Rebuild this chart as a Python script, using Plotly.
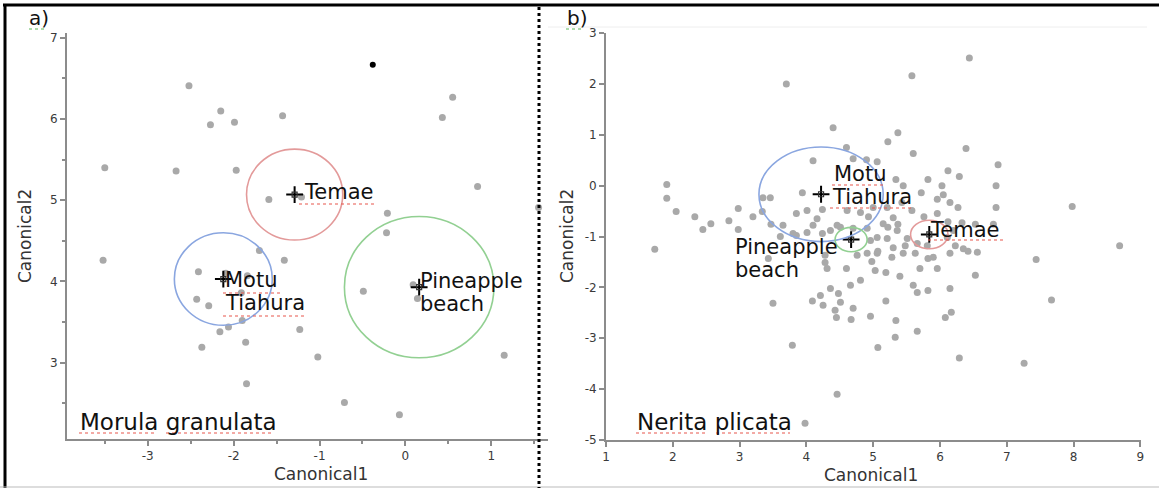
import plotly.graph_objects as go

# ---------------- Panel a: Morula granulata ----------------
a_x = [-2.52, -2.15, -2.27, -1.99, -1.43, -3.50, -2.67, -1.97, -1.59, 0.55, 0.43, 0.84,
       -0.21, -0.22, 1.55, -3.52, -2.41, -1.70, -1.41, -2.43, -2.29, -1.91, -1.84, -2.06,
       -2.16, -1.90, -2.37, -1.86, -1.85, -1.23, -0.49, 0.14, -1.02, 1.15, -0.71, -0.07,
       -2.09, 0.09, -1.21]
a_y = [6.41, 6.10, 5.93, 5.96, 6.04, 5.40, 5.36, 5.37, 5.01, 6.27, 6.02, 5.17,
       4.84, 4.60, 4.91, 4.26, 4.12, 4.38, 4.26, 3.78, 3.70, 3.86, 4.07, 3.44,
       3.38, 3.52, 3.19, 3.25, 2.74, 3.41, 3.88, 3.79, 3.07, 3.09, 2.51, 2.36,
       4.10, 3.96, 5.04]
a_black_x = [-0.38]
a_black_y = [6.67]
a_groups = ["Temae", "Motu Tiahura", "Pineapple beach"]
a_cx = [-1.29, -2.12, 0.16]
a_cy = [5.07, 4.03, 3.93]
a_r = [0.56, 0.57, 0.87]

# ---------------- Panel b: Nerita plicata ----------------
b_x = [3.70, 6.44, 5.58, 4.40, 5.37, 5.22, 4.60, 6.39, 5.60, 4.10, 4.70, 4.90, 5.06, 6.87,
       6.12, 6.29, 6.84, 5.82, 6.03, 5.45, 5.34, 5.72, 6.05, 5.96, 6.15, 6.27, 6.84, 7.98,
       5.76, 5.96, 6.12, 6.33, 6.53, 6.80, 8.69, 5.37, 5.15, 5.30, 4.93, 5.21, 5.43, 5.58,
       5.00, 4.81, 4.61, 1.91, 1.91, 2.05, 2.33, 2.45, 2.57, 2.84, 2.98, 2.98, 3.20, 3.34,
       3.35, 3.46, 3.47, 3.65, 3.85, 3.94, 4.01, 4.24, 4.16, 4.10, 3.61, 3.80, 4.01, 4.24,
       4.36, 4.51, 4.70, 4.91, 5.22, 1.73, 3.43, 4.96, 5.06, 4.91, 4.76, 4.28, 4.28, 4.60,
       4.31, 5.03, 5.19, 5.28, 5.45, 5.30, 5.48, 5.66, 5.81, 5.90, 5.70, 5.96, 6.15, 5.06,
       5.21, 5.36, 5.51, 6.11, 6.20, 4.81, 4.66, 4.36, 4.48, 4.21, 4.09, 4.25, 4.51, 4.70,
       4.43, 4.45, 4.67, 4.96, 5.19, 5.60, 5.66, 5.82, 6.15, 5.34, 5.66, 5.33, 5.07, 6.08,
       6.17, 3.79, 3.50, 7.44, 7.67, 7.26, 6.29, 5.40, 6.53, 6.23, 6.35, 6.42, 6.56, 5.82,
       5.63, 4.98, 5.07, 4.46, 3.98, 3.85, 4.46]
b_y = [2.00, 2.51, 2.16, 1.14, 1.04, 0.86, 0.75, 0.73, 0.63, 0.49, 0.53, 0.51, 0.47, 0.41,
       0.29, 0.18, 0.00, 0.12, 0.00, 0.00, 0.12, -0.14, -0.18, -0.27, -0.33, -0.43, -0.43, -0.41,
       -0.61, -0.55, -0.71, -0.73, -0.76, -0.76, -1.18, -0.76, -0.75, -0.63, -0.61, -0.43, -0.33, -0.49,
       -0.43, -0.53, -0.49, 0.02, -0.25, -0.51, -0.61, -0.86, -0.75, -0.69, -0.45, -0.86, -0.61, -0.51,
       -0.24, -0.24, -0.76, -0.78, -0.55, -0.14, -0.49, -0.47, -0.65, -0.78, -1.00, -0.94, -0.92, -0.94,
       -0.88, -0.82, -0.84, -0.84, -0.82, -1.25, -1.43, -1.08, -1.33, -1.33, -1.37, -1.51, -1.37, -1.63,
       -1.63, -1.67, -1.71, -1.41, -1.33, -1.22, -1.18, -1.14, -1.18, -1.41, -1.63, -1.63, -1.33, -1.02,
       -1.04, -0.88, -1.04, -1.02, -0.88, -1.86, -1.96, -2.02, -2.12, -2.16, -2.27, -2.35, -2.29, -2.41,
       -2.45, -2.59, -2.63, -2.57, -2.27, -1.96, -2.10, -2.06, -2.02, -2.65, -2.86, -2.98, -3.18, -2.59,
       -2.49, -3.14, -2.31, -1.45, -2.25, -3.49, -3.39, -1.78, -1.76, -1.18, -1.24, -1.29, -1.31, -1.43,
       -1.33, -1.49, -1.29, -4.10, -4.67, -0.98, -0.78]
b_groups = ["Motu Tiahura", "Pineapple beach", "Temae"]
b_cx = [4.22, 4.67, 5.84]
b_cy = [-0.17, -1.06, -0.96]
b_r = [0.93, 0.24, 0.28]

# Axis tick labels
a_xticks = [-3, -2, -1, 0, 1]
a_yticks = [3, 4, 5, 6, 7]
b_xticks = [1, 2, 3, 4, 5, 6, 7, 8, 9]
b_yticks = [-5, -4, -3, -2, -1, 0, 1, 2, 3]

W, H = 1159, 488
def px(x):
    return x / W
def py(y):
    return 1 - y / H

GRAY = "#a9a9a9"
FONT = "DejaVu Sans"
circle_colors = {"Temae": "#e39a9a", "Motu Tiahura": "#8aa6e0", "Pineapple beach": "#92d092"}

fig = go.Figure()

fig.add_trace(go.Scatter(x=a_x, y=a_y, mode="markers", xaxis="x", yaxis="y",
                         marker=dict(size=7, color=GRAY), showlegend=False, hoverinfo="skip"))
fig.add_trace(go.Scatter(x=a_black_x, y=a_black_y, mode="markers", xaxis="x", yaxis="y",
                         marker=dict(size=6, color="black"), showlegend=False, hoverinfo="skip"))
fig.add_trace(go.Scatter(x=b_x, y=b_y, mode="markers", xaxis="x2", yaxis="y2",
                         marker=dict(size=7, color=GRAY), showlegend=False, hoverinfo="skip"))

# centroid markers
for xa, ya, cxs, cys in (("x", "y", a_cx, a_cy), ("x2", "y2", b_cx, b_cy)):
    fig.add_trace(go.Scatter(x=cxs, y=cys, mode="markers", xaxis=xa, yaxis=ya,
                             marker=dict(symbol="cross-thin", size=12,
                                         line=dict(width=2, color="black")),
                             showlegend=False, hoverinfo="skip"))
    fig.add_trace(go.Scatter(x=cxs, y=cys, mode="markers", xaxis=xa, yaxis=ya,
                             marker=dict(symbol="square-open", size=5, color="#333",
                                         line=dict(width=1.2)),
                             showlegend=False, hoverinfo="skip"))

shapes = []
for g, cx, cy, r in zip(a_groups, a_cx, a_cy, a_r):
    shapes.append(dict(type="circle", xref="x", yref="y", x0=cx - r, x1=cx + r,
                       y0=cy - r, y1=cy + r, line=dict(color=circle_colors[g], width=1.6)))
for g, cx, cy, r in zip(b_groups, b_cx, b_cy, b_r):
    shapes.append(dict(type="circle", xref="x2", yref="y2", x0=cx - r, x1=cx + r,
                       y0=cy - r, y1=cy + r, line=dict(color=circle_colors[g], width=1.6)))

# frame / separators
shapes.append(dict(type="line", xref="paper", yref="paper", x0=px(3), x1=1, y0=py(5), y1=py(5),
                   line=dict(color="black", width=3)))
shapes.append(dict(type="line", xref="paper", yref="paper", x0=px(5), x1=px(5), y0=py(5), y1=py(488),
                   line=dict(color="black", width=3)))
shapes.append(dict(type="line", xref="paper", yref="paper", x0=0, x1=1, y0=py(487), y1=py(487),
                   line=dict(color="#bbbbbb", width=1)))
shapes.append(dict(type="line", xref="paper", yref="paper", x0=px(539), x1=px(539), y0=py(7), y1=py(488),
                   line=dict(color="black", width=3, dash="dot")))
shapes.append(dict(type="line", xref="paper", yref="paper", x0=px(548), x1=px(1147), y0=py(27), y1=py(27),
                   line=dict(color="#eeeeee", width=1)))

# spell-check style underlines (decoration seen in the reference)
def squiggle(x0, x1, y, color="#e8574d"):
    shapes.append(dict(type="line", xref="paper", yref="paper", x0=px(x0), x1=px(x1),
                       y0=py(y), y1=py(y), line=dict(color=color, width=1.2, dash="dot")))
squiggle(299, 374, 204)
squiggle(223, 280, 293)
squiggle(223, 306, 316)
squiggle(79, 156, 433)
squiggle(166, 274, 433)
squiggle(832, 885, 185)
squiggle(830, 912, 208)
squiggle(928, 1003, 240)
squiggle(636, 707, 433)
squiggle(716, 790, 433)
squiggle(29, 44, 29, color="#5cb85c")
squiggle(566, 581, 29, color="#5cb85c")

annotations = []
def ann(text, x, y, size=21, xanchor="left", xref="paper", yref="paper", xshift=0, yshift=0,
        color="#111", textangle=0):
    annotations.append(dict(text=text, x=x, y=y, xref=xref, yref=yref, xanchor=xanchor,
                            yanchor="middle", showarrow=False, xshift=xshift, yshift=yshift,
                            textangle=textangle, font=dict(family=FONT, size=size, color=color)))

# panel letters
ann("a)", px(27), py(18), size=20)
ann("b)", px(565), py(18), size=20)
# species names
ann("Morula granulata", px(78), py(422), size=23)
ann("Nerita plicata", px(635), py(422), size=23)
# axis titles
ann("Canonical1", px(321), py(474), size=17, xanchor="center", color="#333")
ann("Canonical1", px(871), py(475), size=17, xanchor="center", color="#333")
ann("Canonical2", px(25), py(236), size=17, xanchor="center", color="#333", textangle=-90)
ann("Canonical2", px(567), py(236), size=17, xanchor="center", color="#333", textangle=-90)

# group labels (anchored at centroids)
LS = 23
ann("Temae", a_cx[0], a_cy[0], xref="x", yref="y", xshift=7, yshift=3)
ann("Motu", a_cx[1], a_cy[1], xref="x", yref="y", xshift=0, yshift=-1)
ann("Tiahura", a_cx[1], a_cy[1], xref="x", yref="y", xshift=0, yshift=-1 - LS)
ann("Pineapple", a_cx[2], a_cy[2], xref="x", yref="y", xshift=-1, yshift=6)
ann("beach", a_cx[2], a_cy[2], xref="x", yref="y", xshift=-1, yshift=6 - LS)
ann("Motu", b_cx[0], b_cy[0], xref="x2", yref="y2", xshift=11, yshift=20)
ann("Tiahura", b_cx[0], b_cy[0], xref="x2", yref="y2", xshift=9, yshift=20 - LS)
ann("Pineapple", b_cx[1], b_cy[1], xref="x2", yref="y2", xshift=-118, yshift=-7)
ann("beach", b_cx[1], b_cy[1], xref="x2", yref="y2", xshift=-118, yshift=-7 - LS)
ann("Temae", b_cx[2], b_cy[2], xref="x2", yref="y2", xshift=-1, yshift=4)

axis_common = dict(showline=True, linecolor="#8c8c8c", linewidth=2, ticks="outside",
                   ticklen=5, tickwidth=1.5, tickcolor="#8c8c8c", showgrid=False, zeroline=False,
                   automargin=False,
                   tickfont=dict(family=FONT, size=12, color="#3a3a3a"), fixedrange=True)

fig.update_layout(
    width=W, height=H, autosize=False,
    margin=dict(l=0, r=0, t=0, b=0, pad=0),
    paper_bgcolor="white", plot_bgcolor="white",
    showlegend=False,
    xaxis=dict(domain=[px(67), px(548)], range=[-3.94, 1.66], anchor="y",
               tickvals=a_xticks, ticktext=[str(v) for v in a_xticks],
               minor=dict(dtick=0.5, tick0=0, ticks="outside", ticklen=3, tickcolor="#8c8c8c",
                          showgrid=False),
               **axis_common),
    yaxis=dict(domain=[py(439), py(33)], range=[2.06, 7.06], anchor="x",
               tickvals=a_yticks, ticktext=[str(v) for v in a_yticks],
               minor=dict(dtick=0.5, tick0=0, ticks="outside", ticklen=3, tickcolor="#8c8c8c",
                          showgrid=False),
               **axis_common),
    xaxis2=dict(domain=[px(606), px(1141)], range=[1, 9.01], anchor="y2",
                tickvals=b_xticks, ticktext=[str(v) for v in b_xticks], **axis_common),
    yaxis2=dict(domain=[py(440), py(33)], range=[-5, 3], anchor="x2",
                tickvals=b_yticks, ticktext=[str(v) for v in b_yticks], **axis_common),
    shapes=shapes,
    annotations=annotations,
)

post = "document.body.style.margin='0';document.body.style.overflow='hidden';"
fig.write_html("out.html", config={"displayModeBar": False}, post_script=post)
